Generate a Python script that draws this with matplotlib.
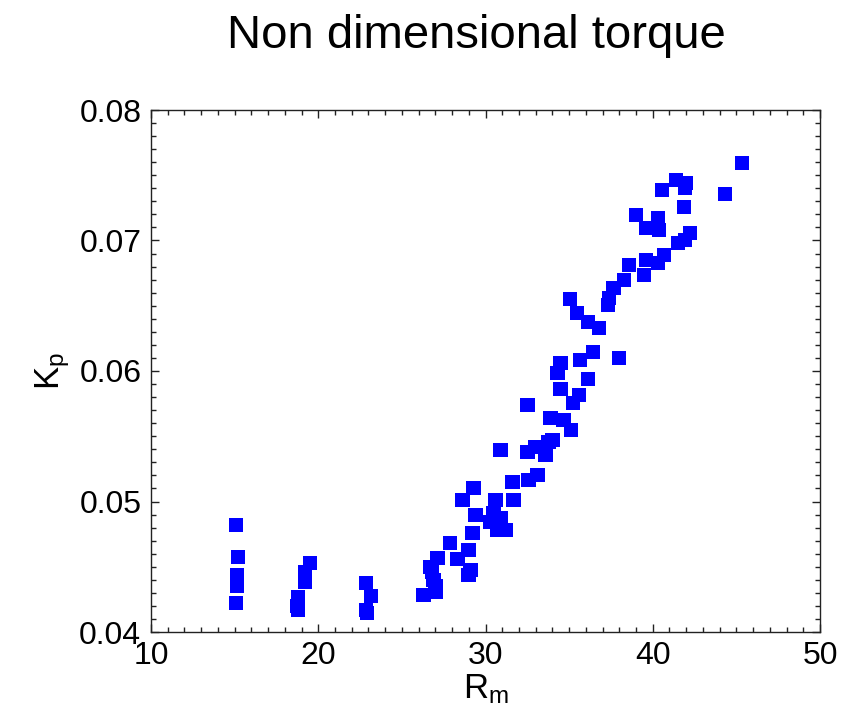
import matplotlib
matplotlib.use("Agg")
import matplotlib.pyplot as plt
from matplotlib.ticker import MultipleLocator

plt.rcParams['font.family'] = ['Liberation Sans', 'DejaVu Sans']
plt.rcParams['mathtext.fontset'] = 'custom'
plt.rcParams['mathtext.rm'] = 'Liberation Sans'
plt.rcParams['mathtext.it'] = 'Liberation Sans'

title = "Non dimensional torque"
x_label = r"$\mathrm{R_m}$"
y_label = r"$\mathrm{K_p}$"

rm = [
    15.09, 15.19, 15.13, 15.13, 15.13, 15.09,
    19.52, 19.22, 19.22, 18.80, 18.74, 18.80,
    22.87, 23.16, 22.87, 22.91,
    26.29, 27.01, 26.89, 26.71, 27.13, 28.32, 29.10, 28.98, 28.98, 27.90,
    29.22, 30.30, 30.72, 31.20, 30.90, 30.48, 30.60, 29.40, 28.62, 29.28,
    31.68, 31.62, 32.57, 33.11, 30.90, 32.51, 32.99, 33.77, 34.01, 33.59,
    32.51, 33.89, 34.67, 35.09, 35.21,
    40.66, 39.58, 40.30, 38.56, 39.46, 38.26, 37.66, 37.37, 37.31, 35.03,
    35.45, 36.11, 36.77, 36.41, 35.63, 37.96, 34.49, 34.31, 36.11, 34.49, 35.57,
    45.33, 44.31, 41.38, 41.98, 41.92, 40.54, 41.86, 38.98, 40.30, 39.58,
    40.36, 42.22, 41.92, 41.50, 26.80, 27.05,
]
kp = [
    0.04822, 0.04577, 0.04439, 0.04401, 0.04355, 0.04225,
    0.04531, 0.04462, 0.04385, 0.04270, 0.04202, 0.04171,
    0.04378, 0.04278, 0.04171, 0.04148,
    0.04286, 0.04309, 0.04401, 0.04500, 0.04569, 0.04562, 0.04477, 0.04439, 0.04631, 0.04684,
    0.04761, 0.04845, 0.04784, 0.04784, 0.04876, 0.04914, 0.05014, 0.04899, 0.05014, 0.05106,
    0.05014, 0.05152, 0.05167, 0.05205, 0.05397, 0.05382, 0.05420, 0.05458, 0.05474, 0.05359,
    0.05742, 0.05642, 0.05627, 0.05550, 0.05757,
    0.06891, 0.06853, 0.06830, 0.06815, 0.06738, 0.06700, 0.06638, 0.06562, 0.06508, 0.06554,
    0.06447, 0.06378, 0.06332, 0.06148, 0.06087, 0.06102, 0.06064, 0.05987, 0.05941, 0.05864, 0.05818,
    0.07596, 0.07359, 0.07466, 0.07443, 0.07405, 0.07389, 0.07259, 0.07198, 0.07175, 0.07098,
    0.07083, 0.07060, 0.07006, 0.06983, 0.04460, 0.04350,
]

x_ticks = [10, 20, 30, 40, 50]
y_ticks = [0.04, 0.05, 0.06, 0.07, 0.08]
y_tick_labels = ["0.04", "0.05", "0.06", "0.07", "0.08"]

fig = plt.figure(figsize=(8.46, 7.24), dpi=100)
ax = fig.add_axes([151/846, 1 - 632/724, (820 - 151)/846, (632 - 110)/724])

ax.scatter(rm, kp, marker='s', s=105, c='#0000ff', edgecolors='none', zorder=3)

ax.set_xlim(10, 50)
ax.set_ylim(0.04, 0.08)
ax.set_xticks(x_ticks)
ax.set_yticks(y_ticks)
ax.set_yticklabels(y_tick_labels)
ax.xaxis.set_minor_locator(MultipleLocator(1))
ax.yaxis.set_minor_locator(MultipleLocator(0.001))
ax.tick_params(which='both', direction='in', top=True, right=True,
               color='#222222', width=1.0, labelsize=23)
ax.tick_params(which='major', length=6)
ax.tick_params(which='minor', length=3.4)
ax.tick_params(axis='x', pad=6.5)
ax.tick_params(axis='y', pad=7)
for sp in ax.spines.values():
    sp.set_linewidth(1.0)
    sp.set_color('#222222')

ax.set_xlabel(x_label, fontsize=25, labelpad=1)
ax.set_ylabel(y_label, fontsize=25, labelpad=5)

fig.text(476/846, 1 - 48/724, title, fontsize=34, ha='center', va='baseline')

fig.savefig("out.png", dpi=100)
